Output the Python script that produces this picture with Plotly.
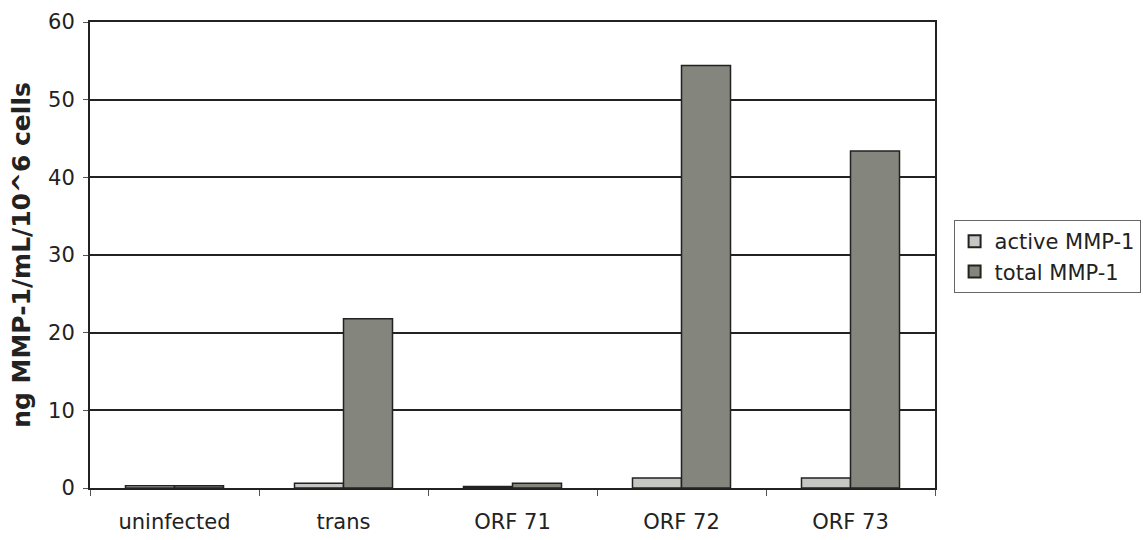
import plotly.graph_objects as go

categories = ["uninfected", "trans", "ORF 71", "ORF 72", "ORF 73"]
active_mmp1 = [0.3, 0.6, 0.2, 1.3, 1.3]
total_mmp1 = [0.3, 21.8, 0.6, 54.4, 43.4]
y_ticks = [0, 10, 20, 30, 40, 50, 60]

FONT = "DejaVu Sans"
TXT = "#222222"

fig = go.Figure()
fig.add_trace(go.Bar(
    x=categories, y=active_mmp1, name="active MMP-1",
    marker=dict(color="#c6c6c3", line=dict(color="#222222", width=1.5)),
))
fig.add_trace(go.Bar(
    x=categories, y=total_mmp1, name="total MMP-1",
    marker=dict(color="#84857d", line=dict(color="#222222", width=1.5)),
))

fig.update_layout(
    width=1143, height=540,
    margin=dict(l=90, r=208, t=22, b=52, autoexpand=False),
    paper_bgcolor="white", plot_bgcolor="white",
    barmode="group", bargap=0.42, bargroupgap=0,
    font=dict(family=FONT, size=21, color=TXT),
    showlegend=True,
    legend=dict(
        x=1.022, y=0.575, xanchor="left", yanchor="top",
        bordercolor="#666666", borderwidth=1,
        font=dict(family=FONT, size=21, color=TXT),
        itemsizing="constant", tracegroupgap=0, itemwidth=30,
    ),
)

fig.update_xaxes(
    type="category", tickson="boundaries",
    ticks="outside", ticklen=6, tickcolor="#555555",
    showline=True, linecolor="#222222", linewidth=2, mirror=True,
    showgrid=False, ticklabelstandoff=14, automargin=False,
    tickfont=dict(family=FONT, size=21, color=TXT),
)
fig.update_yaxes(
    range=[0, 60], tickvals=y_ticks,
    ticks="outside", ticklen=5, tickcolor="#555555",
    showline=True, linecolor="#222222", linewidth=2, mirror=True,
    showgrid=True, gridcolor="#222222", gridwidth=1.5,
    zeroline=False, ticklabelstandoff=4, automargin=False,
    tickfont=dict(family=FONT, size=21, color=TXT),
    title=dict(text="<b>ng MMP-1/mL/10^6 cells</b>",
               font=dict(family=FONT, size=25, color=TXT), standoff=10),
)

fig.write_html("out.html")
